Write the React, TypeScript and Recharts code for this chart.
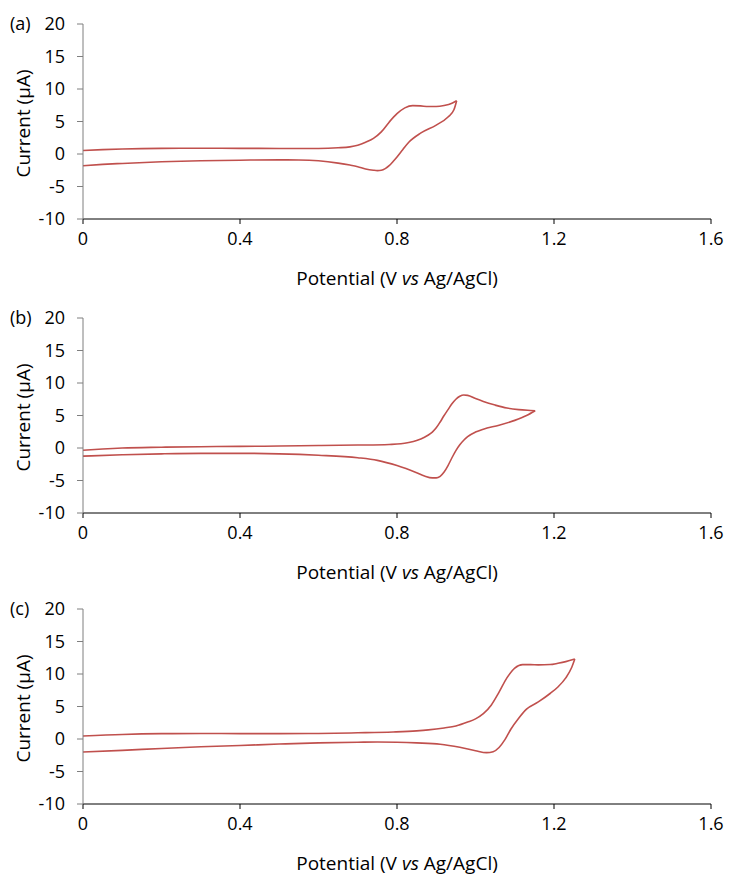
import { LineChart, Line, XAxis, YAxis, Label } from "recharts";

// Potential (V vs Ag/AgCl) and current (µA) for each scan branch.
// Forward = scan towards the switching potential, reverse = return scan
// (both stored in ascending potential order).
const aFwdE = [0, 0.05, 0.1, 0.2, 0.3, 0.4, 0.5, 0.6, 0.65, 0.68, 0.7, 0.72, 0.74, 0.76, 0.78, 0.8, 0.82, 0.84, 0.86, 0.88, 0.9, 0.92, 0.94, 0.952];
const aFwdI = [0.55, 0.68, 0.78, 0.87, 0.88, 0.87, 0.85, 0.85, 0.95, 1.1, 1.35, 1.8, 2.4, 3.4, 4.9, 6.2, 7.1, 7.45, 7.4, 7.3, 7.3, 7.45, 7.8, 8.2];
const aRevE = [0, 0.05, 0.1, 0.2, 0.3, 0.4, 0.5, 0.55, 0.6, 0.65, 0.68, 0.7, 0.72, 0.74, 0.75, 0.76, 0.77, 0.78, 0.79, 0.8, 0.815, 0.83, 0.86, 0.9, 0.93, 0.945, 0.952];
const aRevI = [-1.8, -1.6, -1.45, -1.2, -1.05, -0.95, -0.9, -0.92, -1.05, -1.4, -1.7, -1.95, -2.3, -2.5, -2.55, -2.5, -2.25, -1.8, -1.15, -0.45, 0.7, 1.8, 3.2, 4.45, 5.7, 6.8, 8.2];

const bFwdE = [0, 0.05, 0.1, 0.2, 0.3, 0.4, 0.5, 0.6, 0.7, 0.78, 0.81, 0.83, 0.85, 0.87, 0.88, 0.89, 0.9, 0.91, 0.92, 0.93, 0.94, 0.95, 0.96, 0.97, 0.98, 1.0, 1.02, 1.05, 1.08, 1.11, 1.14, 1.152];
const bFwdI = [-0.35, -0.15, 0, 0.12, 0.2, 0.25, 0.3, 0.38, 0.45, 0.55, 0.65, 0.85, 1.15, 1.65, 2.0, 2.45, 3.1, 4.0, 5.0, 5.9, 6.8, 7.5, 7.95, 8.15, 8.1, 7.6, 7.15, 6.6, 6.15, 5.9, 5.78, 5.74];
const bRevE = [0, 0.1, 0.2, 0.3, 0.4, 0.5, 0.6, 0.7, 0.75, 0.8, 0.85, 0.87, 0.89, 0.9, 0.91, 0.92, 0.93, 0.94, 0.95, 0.96, 0.97, 0.98, 1.0, 1.02, 1.06, 1.1, 1.13, 1.152];
const bRevI = [-1.25, -1.05, -0.9, -0.82, -0.82, -0.9, -1.12, -1.5, -1.9, -2.7, -3.8, -4.3, -4.6, -4.6, -4.35, -3.7, -2.7, -1.5, -0.4, 0.5, 1.2, 1.75, 2.45, 2.9, 3.5, 4.25, 5.0, 5.74];

const cFwdE = [0, 0.1, 0.2, 0.3, 0.4, 0.5, 0.6, 0.7, 0.79, 0.85, 0.88, 0.92, 0.95, 0.98, 1.0, 1.02, 1.04, 1.06, 1.08, 1.1, 1.12, 1.14, 1.16, 1.19, 1.21, 1.23, 1.253];
const cFwdI = [0.46, 0.7, 0.82, 0.85, 0.83, 0.82, 0.85, 0.95, 1.08, 1.25, 1.4, 1.7, 2.0, 2.6, 3.1, 3.9, 5.2, 7.2, 9.4, 10.9, 11.45, 11.45, 11.4, 11.45, 11.65, 11.9, 12.3];
const cRevE = [0, 0.1, 0.2, 0.3, 0.4, 0.5, 0.6, 0.7, 0.75, 0.8, 0.85, 0.91, 0.96, 1.0, 1.028, 1.045, 1.06, 1.075, 1.09, 1.11, 1.13, 1.16, 1.19, 1.21, 1.23, 1.245, 1.253];
const cRevI = [-2.0, -1.75, -1.45, -1.2, -1.0, -0.78, -0.6, -0.5, -0.46, -0.5, -0.6, -0.8, -1.28, -1.8, -2.1, -1.95, -1.3, -0.1, 1.5, 3.2, 4.6, 5.7, 7.0, 8.0, 9.4, 11.0, 12.3];

const xTicks = [0, 0.4, 0.8, 1.2, 1.6];
const yTicks = [-10, -5, 0, 5, 10, 15, 20];
const panelTags = ["(a)", "(b)", "(c)"];

const FONT = '"Open Sans", sans-serif';
const RED = "#C0504D";

const toPoints = (e: number[], i: number[]) => e.map((v, k) => ({ e: v, i: i[k] }));

type PanelProps = {
  tag: string;
  top: number;
  fwdE: number[];
  fwdI: number[];
  revE: number[];
  revI: number[];
};

function CvPanel({ tag, top, fwdE, fwdI, revE, revI }: PanelProps) {
  const fwd = toPoints(fwdE, fwdI);
  const rev = toPoints(revE, revI);

  return (
    <div style={{ position: "absolute", left: 0, top }}>
      <LineChart width={729} height={291} margin={{ top: 24, right: 18, bottom: 0, left: 0 }}>
        <XAxis
          type="number"
          dataKey="e"
          domain={[0, 1.6]}
          ticks={xTicks}
          interval={0}
          tickFormatter={(v: number) => String(v)}
          height={72}
          tickSize={5}
          tickMargin={8}
          axisLine={{ stroke: "#000" }}
          tickLine={{ stroke: "#000" }}
          tick={{ fill: "#000", fontSize: 18, fontFamily: FONT }}
        >
          <Label
            content={(p: any) => {
              const vb = p.viewBox;
              const cx = vb.x + vb.width / 2;
              return (
                <text x={cx} y={vb.y + 66} textAnchor="middle" fontSize={19} fontFamily={FONT} fill="#000">
                  Potential (V <tspan fontStyle="italic">vs</tspan> Ag/AgCl)
                </text>
              );
            }}
          />
        </XAxis>
        <YAxis
          type="number"
          domain={[-10, 20]}
          ticks={yTicks}
          interval={0}
          width={83}
          tickSize={6}
          tickMargin={12}
          axisLine={{ stroke: "#7f7f7f" }}
          tickLine={{ stroke: "#7f7f7f" }}
          tick={{ fill: "#000", fontSize: 18, fontFamily: FONT }}
        >
          <Label
            content={(p: any) => {
              const vb = p.viewBox;
              const tx = vb.x + 30;
              const ty = vb.y + vb.height / 2 + 2;
              return (
                <g fontFamily={FONT} fill="#000">
                  <text x={tx} y={ty} fontSize={19} textAnchor="middle" transform={`rotate(-90 ${tx} ${ty})`}>
                    Current (μA)
                  </text>
                  <text x={vb.x + 10} y={vb.y} fontSize={18} dy="0.355em">
                    {tag}
                  </text>
                </g>
              );
            }}
          />
        </YAxis>
        <Line data={fwd} dataKey="i" type="monotoneX" stroke={RED} strokeWidth={1.6} dot={false} isAnimationActive={false} />
        <Line data={rev} dataKey="i" type="monotoneX" stroke={RED} strokeWidth={1.6} dot={false} isAnimationActive={false} />
      </LineChart>
    </div>
  );
}

export default function App() {
  return (
    <div style={{ position: "absolute", left: 0, top: 0, width: 729, height: 876, background: "#fff", overflow: "hidden" }}>
      <CvPanel tag={panelTags[0]} top={0} fwdE={aFwdE} fwdI={aFwdI} revE={aRevE} revI={aRevI} />
      <CvPanel tag={panelTags[1]} top={294} fwdE={bFwdE} fwdI={bFwdI} revE={bRevE} revI={bRevI} />
      <CvPanel tag={panelTags[2]} top={585} fwdE={cFwdE} fwdI={cFwdI} revE={cRevE} revI={cRevI} />
    </div>
  );
}
